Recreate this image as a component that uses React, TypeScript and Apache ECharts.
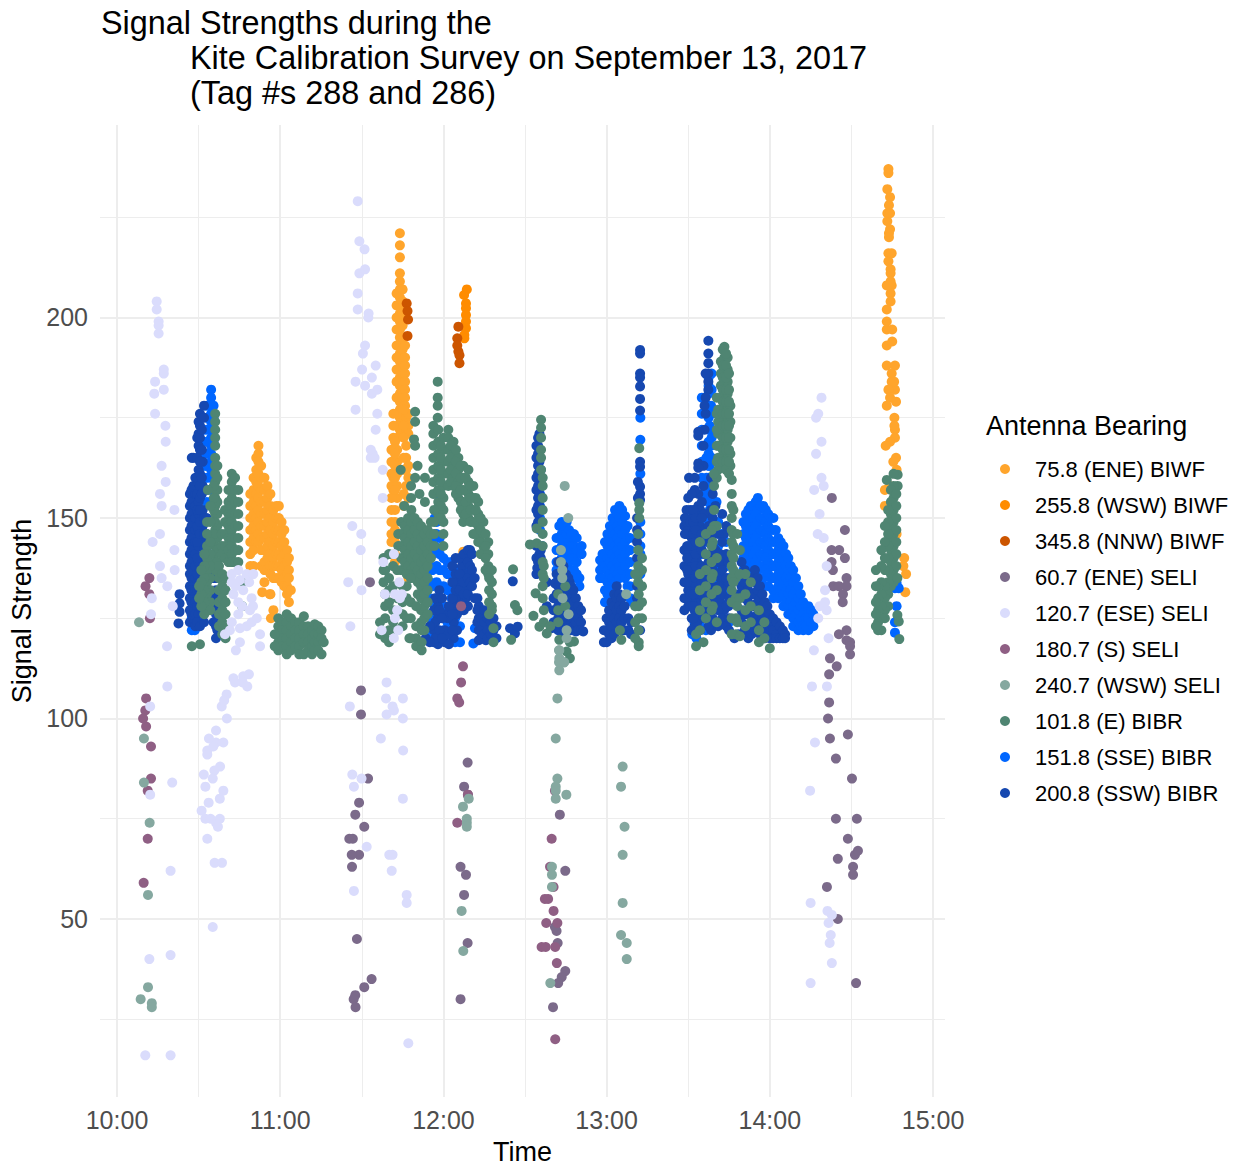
import React, { useEffect, useRef } from "react";
import * as echarts from "echarts";

type Rows = number[][]; // each row: [minutes after 10:00, signal, signal, ...]

const titleLines = ["Signal Strengths during the", "Kite Calibration Survey on September 13, 2017", "(Tag #s 288 and 286)"];
const xMajor = [0, 60, 120, 180, 240, 300];
const xMinor = [30, 90, 150, 210, 270];
const xLabels = ["10:00", "11:00", "12:00", "13:00", "14:00", "15:00"];
const yMajor = [50, 100, 150, 200];
const yMinor = [25, 75, 125, 175, 225];

const biwf75: Rows = [
  [49, 156, 153, 150, 147, 144, 141, 138], [50.2, 160, 157, 154, 151, 148, 145, 142, 138], [51.2, 165, 162, 159, 156, 153, 150, 147, 144],
  [52, 168, 166, 164, 161, 158, 155, 152, 149, 146, 144], [53, 163, 160, 157, 154, 151, 148, 145, 142, 138], [54.2, 160, 157, 154, 151, 148, 145, 142, 139, 137, 134],
  [55.3, 158, 155, 152, 149, 146, 143, 140, 137], [56.4, 156, 153, 150, 147, 144, 141, 138, 136, 131], [57.5, 152, 149, 146, 143, 140, 138, 135, 127],
  [58.6, 153, 150, 147, 144, 141, 138, 135], [59.5, 153, 150, 147, 144, 141, 138, 135], [60.5, 149, 146, 143, 140, 137, 134],
  [61.5, 147, 144, 141, 138, 135, 133], [62.5, 142, 139, 136, 133, 131], [63.2, 140, 137, 135, 132, 129], [53.4, 131.5], [56.2, 131], [56.6, 125], [63.9, 132],
  [104, 221, 218, 215, 211, 209, 207, 205, 203, 201, 199, 197, 195, 193, 191, 189, 187, 185, 183, 181, 179, 177, 175, 172], [102.8, 206, 203, 200, 197, 193, 190, 187, 184, 180],
  [105, 207, 204, 201, 198, 195, 192, 189, 186, 183, 180, 177, 174], [105.9, 193, 190, 188, 186, 184, 182, 180, 178], [103, 176, 173, 170, 167, 164, 161, 158, 155],
  [101.6, 176, 173, 170, 167, 164, 160, 157], [100.9, 167, 164, 161, 158, 155, 152, 149, 146, 144], [102.2, 169, 166, 163, 160, 157, 152, 149, 147, 144, 141, 139],
  [106.3, 175, 172, 168, 165, 162, 158], [107.1, 176, 173, 171, 163, 160, 155, 135], [105.4, 177, 173, 170, 165, 162, 156, 153], [128.2, 130.6], [127.3, 141.6],
  [283.6, 237, 236], [283.2, 232, 226, 224], [284.2, 230, 226, 222], [283.8, 228, 221, 220], [283.6, 216, 214], [284.8, 216, 208], [284.4, 212, 211, 209, 206, 204], [283, 208, 202, 199, 197, 193, 188], [285, 197, 194],
  [286, 188, 182, 172, 170], [284.8, 186, 184], [285.7, 184], [283.6, 182], [284.2, 180], [286.4, 179, 165], [283, 178], [285.8, 175, 173], [284.2, 169], [282.6, 168], [285.4, 164], [286.6, 162, 146], [284, 158], [282.3, 157, 153], [289.4, 140], [289.1, 138], [290.1, 136], [285, 137], [289.8, 131.5],
];
const biwf255: Rows = [[128.6, 207], [127.6, 205.6], [128.3, 203.5, 202.3, 200.6, 199, 197.3], [127.7, 195.6, 194.8]];
const biwf345: Rows = [[106.5, 203.5], [106.8, 201.6, 195.4], [107, 199.5], [125.5, 197.7, 191.5], [125.1, 194.8, 193], [125.9, 190.6, 188.6]];
const seli60: Rows = [
  [89.7, 107, 101], [92.3, 85], [89, 79, 66], [87.6, 76, 31], [90.9, 73, 33], [85.4, 70], [86.7, 70], [86.3, 66], [86.4, 63], [88.2, 45], [93.6, 35], [87, 30], [87.7, 28], [93, 134],
  [128.9, 89, 44], [127.6, 83, 56], [129, 81], [126.3, 63, 30], [128.3, 61], [162.8, 76], [164.8, 62, 37], [161.6, 47], [161, 48], [162, 44], [163.5, 35.5], [162.2, 34], [160.3, 28],
  [262.8, 155], [267.6, 147, 140], [262.7, 142, 139], [265.5, 142], [263.2, 137], [268.2, 135, 133, 122, 119.5], [263.3, 133], [265.4, 133, 121], [266.9, 131], [266.8, 129], [269.5, 119, 118, 116], [262.1, 115, 95], [264.6, 113], [261.8, 111, 104], [261.4, 100], [268.7, 96, 70], [264.3, 90, 75], [270.2, 85], [272, 75], [265, 65, 50], [271.3, 66], [272.4, 67], [270.6, 63, 61], [261, 58], [271.7, 34],
];
const seli120: Rows = [
  [14.6, 204, 202], [15.3, 199, 198, 196], [17.2, 187, 186, 182], [14, 184, 176], [13.7, 181], [17.8, 173], [17.9, 169, 159], [16.4, 163, 153, 135], [15.8, 156, 146, 138], [21.1, 152, 142], [13.1, 144], [21.2, 137], [18.5, 133, 108], [12.8, 130], [20.5, 128], [12.5, 126], [18.4, 118],
  [12.2, 103, 81], [20.3, 84], [19.7, 62, 41, 16], [11.9, 40], [10.4, 16],
  [40.3, 106], [38.5, 103], [39.4, 104.5], [43.4, 109], [46.2, 109], [47.9, 108], [40.4, 100], [36.4, 97, 94, 74], [33.8, 95], [39.1, 94, 82], [35.4, 93], [33.2, 92, 91, 70], [37.9, 88], [35.8, 87], [31.9, 86], [35.2, 85, 48], [32.5, 83, 75], [37.8, 80, 75], [33.7, 79], [31.1, 77], [34.4, 75], [37.1, 73], [35.9, 64], [38.6, 64],
  [42.2, 136, 134, 124], [44.6, 137, 129, 126], [47.7, 136, 123], [50.1, 136], [45.2, 134.5, 122.5, 119], [42.8, 131, 110], [46.4, 132, 110.5], [49.5, 130, 124], [50, 128], [48.9, 127], [51.4, 125], [39.7, 121], [41.5, 122], [52.6, 121, 118], [43.7, 117], [48.5, 111], [43.6, 133], [48.6, 134], [46, 128],
  [88.5, 229, 206, 202], [89.1, 219, 211], [91, 217], [91.2, 212, 193, 183], [92.5, 201], [92.4, 200], [90.4, 191], [95.1, 188, 172], [90.1, 187], [93.7, 185, 181], [87.7, 184, 177], [95.7, 182, 176], [93.3, 167, 165], [94, 166], [94.7, 165], [97.7, 162, 155], [86.5, 148, 86], [89.8, 146], [89.6, 142], [101.8, 141, 120, 102], [97.9, 139], [85, 134], [89.9, 132, 85], [98.5, 131], [103.8, 134], [102.2, 131, 125], [104.7, 131], [104, 130], [103, 127], [103.4, 122], [97.3, 122], [85.8, 123],
  [99.1, 109, 101], [98.9, 105], [105.1, 105, 100, 80], [85.6, 103], [101.3, 103, 66], [97, 95], [105.2, 92], [87.1, 83, 57], [91.8, 68], [100.1, 66], [101, 62], [106.5, 56, 54], [107.1, 19],
  [259, 180, 169, 160], [257.8, 176, 125], [257, 175, 166], [259.8, 158, 145], [256.3, 157], [258.3, 151, 128], [257.6, 146], [260.9, 138, 127], [260.3, 132, 129], [261.6, 120, 49], [256.2, 117], [255.5, 108], [261, 108], [256.6, 94], [254.8, 82], [255, 54, 34], [261.2, 52], [262.8, 51, 39], [262.4, 46], [262, 44],
];
const seli180: Rows = [
  [11.9, 135, 131], [10.5, 133], [12.1, 125], [10.7, 105, 98], [10.4, 102], [9.6, 100], [12.5, 93, 85], [11.3, 82, 70], [9.8, 59],
  [127.2, 113], [126.5, 109, 128], [125.1, 105, 74], [125.8, 104], [129, 81], [161, 82], [159.8, 70], [159.2, 63], [160.5, 58, 52], [157.3, 55], [158.5, 55], [157.8, 49], [161.9, 49], [156.1, 43], [157.6, 43], [161.1, 43, 20], [161.7, 39],
];
const seli240: Rows = [
  [8.1, 124], [9.9, 95, 84], [12, 74], [11.4, 56, 33], [8.7, 30], [12.8, 29, 28],
  [162.6, 117, 115, 112], [164.3, 114], [161.9, 105, 85], [161.3, 95, 83, 82, 80], [165.2, 81], [159.9, 63, 61, 58], [159.3, 34],
  [129.3, 80], [127.2, 78], [128.6, 75, 74, 73], [126.7, 52], [127.3, 42],
  [185.9, 88, 66, 54], [185.3, 83, 46], [186.6, 73], [187.4, 44, 40], [164.6, 158], [165.9, 150], [163.2, 142, 139], [163.7, 137, 135], [163.8, 130], [166, 126], [165.3, 122, 120], [162.5, 117, 114], [164.4, 114], [187.2, 131],
];
const bibr101: Rows = [
  [36.1, 176, 174, 172, 170, 168, 165, 163, 161, 159, 157, 155, 153, 151, 149, 147, 145, 143, 141, 139, 137], [36.9, 163, 160, 157, 154, 151, 148, 145, 142, 139], [35.6, 158, 155, 152, 149, 146],
  [33.1, 149, 146, 143, 140, 137, 134, 131, 128], [34.3, 153, 149, 144, 141, 138, 135, 132, 129, 127], [32.1, 141, 138, 135, 132, 129, 126], [31, 137, 134, 131, 128], [30.2, 133, 130], [33.4, 157],
  [38.5, 146, 143, 141], [39.7, 152, 149, 146, 143, 140], [41, 157, 154, 151, 148, 145, 142, 139], [42.2, 161, 159, 157, 155, 153, 151, 149, 147, 145, 143, 141, 139], [43.4, 160, 157, 154, 151, 148, 145, 142, 139], [44.6, 157, 154, 151, 148, 145, 142, 139],
  [37.5, 138, 135, 132, 129, 126, 123], [38.7, 136, 133, 130, 127, 124, 121], [39.9, 135, 132, 129, 126, 123, 120], [27.5, 118], [30.5, 118.5], [46, 134, 128],
  [59.3, 125, 123, 121, 119, 117], [60.8, 124, 122, 120, 118], [62.4, 126, 124, 122, 120, 118, 116], [64, 125, 123, 121, 119, 117], [65.5, 124, 122, 120, 118], [67, 124, 122, 120, 118, 116], [68.7, 125.5, 123, 121, 119, 116], [70.2, 123, 121, 119, 117], [71.7, 122, 120, 118, 116], [72.7, 123.5, 121, 119, 117], [74, 123, 121, 119, 117], [75.2, 122, 120, 116], [58, 121, 118], [76, 119],
  [109.6, 176.5, 174, 160], [109.2, 169.6], [109.6, 168], [110.5, 163], [104.3, 162], [113.2, 160, 154], [108.1, 158, 155], [111.2, 156], [105.6, 153], [117.9, 184, 180, 178, 175],
  [116.3, 173, 171, 168, 165, 162, 159, 156], [118.1, 172, 169, 166, 163, 160, 157, 154, 151], [120, 170, 167, 164, 161, 158, 155, 152, 149, 146, 143], [119.1, 168, 165, 162, 159, 156, 153, 150], [121.8, 172, 170, 167, 164, 161, 158], [123.7, 169, 166, 163, 160, 158], [122.7, 168, 165, 162, 159], [125.5, 165, 162, 159, 157, 155], [124.6, 167, 164, 161, 158, 156],
  [127.3, 163, 160, 157, 154, 151, 149], [126.4, 163, 160, 157, 154, 152], [129.2, 162, 159, 156, 153, 150], [128.2, 160, 157, 154, 151], [131, 158, 155, 152, 149, 146], [130, 158, 155, 152, 149], [132.8, 154, 151, 148, 146, 144], [131.9, 155, 152, 149, 146], [134.7, 149, 146, 143, 141], [133.7, 150, 147, 144, 141], [136.5, 144, 141, 138, 136], [135.5, 146, 143, 140, 137], [137.8, 137, 134, 131, 128, 127], [136.8, 135, 132, 129, 126], [138.4, 122.5, 119],
  [103.4, 146, 143], [104.5, 149, 146, 143, 140, 137], [105.8, 148, 145, 142, 139], [107, 150, 147, 144, 141, 138], [108.2, 152, 149, 146, 143, 140, 137], [109.4, 150, 147, 144, 141, 138, 135], [110.6, 149, 146, 143, 140, 137, 134, 131], [111.8, 148, 145, 142, 139, 136, 133, 130, 127, 124], [113, 146, 143, 140, 137, 134, 131, 128, 125, 122], [114.2, 147, 144, 141, 138, 135, 132, 129, 126], [115.4, 149, 146, 143, 140], [116.6, 152, 149, 146, 143],
  [98, 140, 137, 134], [98.6, 137, 131, 128, 125, 120], [100, 141, 135, 132, 129, 122, 119], [101.5, 138, 133, 127, 124], [103, 137, 130, 122], [105, 133, 129, 126, 123], [106.5, 136, 133, 130, 125], [108, 135, 129, 125, 120], [96.7, 124, 121], [110, 128, 123, 120, 118], [107.5, 120], [112, 122, 119, 117],
  [145.6, 137.2], [146.3, 128.3], [147.2, 127], [153.1, 125.6], [144.9, 119.6], [153.9, 131.2], [151.8, 143.4], [154.3, 147.4, 143.7], [155.3, 122.9], [158, 121.2],
  [155.9, 174.5, 172.5, 170, 167, 165, 162], [156.5, 160, 158, 155, 152, 149, 146, 143, 139, 136, 133, 130], [156.9, 138, 135, 127, 124], [162.2, 131, 127, 124], [164.8, 133, 128], [168, 119.2], [165.3, 116.7], [166.5, 115, 119], [162.6, 119.6], [159.3, 123],
  [184.9, 122], [185.4, 119.6], [192, 167.4, 153.7, 152, 150], [191.6, 146, 142, 138, 136, 134], [191.8, 131, 128, 125, 122, 119, 118], [193, 140, 137, 133, 129, 125], [190.5, 136, 128, 124, 120],
  [223.3, 192.7, 190, 187, 184, 181, 178, 175, 172, 169, 166, 163], [222, 189, 186, 183, 180, 177, 174, 171, 168, 165], [224.5, 190, 187, 184, 181, 178, 175, 172, 169, 166, 163], [221, 177, 174, 171, 168, 165, 162], [225.5, 178, 174, 170, 166, 163],
  [220.5, 180, 176, 172, 168, 164, 160], [222.7, 192, 188, 185, 182, 179, 176, 173, 170, 167, 164], [223.9, 191, 188, 185, 182, 179, 176, 173, 170, 167, 164, 162], [225, 186, 182, 179, 176, 173, 170, 167, 164, 161],
  [219, 144, 136, 128], [220.5, 148, 140, 132, 124], [227.5, 135, 130, 125, 121],
  [226, 159.5, 156, 153, 150, 147, 144, 141, 138, 135, 132, 129, 125, 121], [226.6, 152, 146, 143, 140, 137, 134], [219.5, 161, 158, 152, 148], [218.6, 147, 143, 139, 135, 131, 127], [216.5, 146, 141, 137, 133, 129, 125], [214.3, 144, 136, 132, 127, 122], [212.9, 118, 121], [215.6, 119],
  [229, 142, 136, 130, 120.5], [231, 136, 131, 127, 123], [233, 134, 128, 124], [236, 119, 122, 127], [240, 117.5], [238, 124, 120], [228, 146, 128, 124],
  [287, 160.8, 158], [283, 159.5], [285.5, 161, 158, 155, 152, 149, 146, 143, 140, 137, 134], [284.5, 157, 154, 151, 148, 145, 142, 139, 136, 133], [286.5, 156, 153, 150, 147, 144, 141, 138], [283.5, 152, 149, 146, 143, 140, 137, 134, 131, 128], [282.3, 148, 144, 140, 137, 133, 130, 127, 125],
  [281, 142, 138, 134, 131, 128, 125, 122], [279.8, 133, 130, 127, 124, 122], [279, 137, 133, 129, 126, 123], [287.6, 119.8], [287.4, 124.2], [286.9, 125.8, 135],
];
const bibr151: Rows = [
  [34.6, 182, 180, 178, 176, 174, 172, 170, 168, 166, 164, 162, 160, 157, 154], [33, 178, 175, 172, 169, 166, 163, 160, 157, 154], [35.5, 178, 175, 172, 169, 165], [32, 172, 169, 166, 163, 160], [30.5, 143, 140], [27.5, 122, 125, 129, 132], [28.6, 122, 124, 128, 134], [36.5, 130, 127, 124],
  [115, 142, 138, 134, 130, 126, 122], [116, 145, 141, 137, 133, 129, 125, 121],
  [116.8, 150, 146, 143], [117.5, 156, 152, 149, 146, 142, 138, 134, 130, 126, 122], [118.6, 145, 141, 137, 133, 129, 125], [120, 140, 137, 133, 128, 122], [121.5, 139, 136, 132, 127, 124], [123, 139, 136, 133, 130, 126, 122], [124.3, 137, 134, 131, 128, 125, 122, 119], [126.1, 135, 131, 127, 123, 119], [131, 118.7], [131.6, 122.5], [127.5, 137, 130], [113.5, 136, 133], [115.5, 129, 125],
  [155.5, 158, 156, 153, 150, 147], [156.3, 160, 143], [161.6, 145, 142, 139, 137, 134], [162.6, 148, 145, 142, 139], [163.5, 149, 146, 143, 140, 137], [164.5, 148, 145, 142, 139], [165.3, 149, 146, 143, 140], [166.2, 147, 144, 141, 139], [167.1, 146, 143, 140, 137], [168, 146, 143, 140, 137], [169, 145, 142, 139, 136, 135], [170, 135, 133], [170.8, 143, 141],
  [177.6, 139.5, 137, 135], [178.5, 141, 138, 135], [179.4, 144, 141, 138, 135, 132, 129], [180.3, 146, 143, 140, 137, 134, 131], [181.2, 148, 145, 142, 139, 136, 133], [182.2, 150, 147, 144, 141, 138, 135], [183.1, 152, 149, 146, 143, 140, 137, 134], [183.9, 151, 148, 145, 142, 139, 136], [184.7, 153, 150, 147, 144, 141, 138, 135], [185.7, 152, 149, 146, 143, 140, 137], [186.8, 150.5, 147, 144, 141, 138, 135], [187.7, 148, 145, 142, 139, 136, 133], [188.6, 145, 142, 139, 136, 133, 130], [189.6, 129],
  [192.4, 175, 169.5, 161, 149, 146, 143, 141, 136],
  [217.5, 185, 183, 181, 178, 175, 172, 169, 166, 163, 160, 157, 154, 151, 148], [218.4, 178, 172, 168], [216.7, 165, 160, 155, 150, 144, 138], [219.5, 152, 146, 140, 134], [213, 139, 133, 127, 123, 120], [216.5, 132, 126, 122], [221, 149, 143, 137, 130], [224, 144, 138, 132], [211.5, 142, 121],
  [215, 180, 176, 172, 168, 164, 160], [218.6, 186, 182, 176, 170, 165, 160, 156], [217.9, 173, 168, 163, 158, 152], [216, 156, 150, 146], [214.5, 141, 134, 128, 123], [212.3, 138, 130, 124], [220.4, 154, 148, 142, 136, 128], [222.4, 146, 140, 134, 128], [225, 135, 129, 124],
  [230.3, 149, 146, 143, 140, 137, 134, 131], [231.2, 151, 148, 145, 142, 139, 136], [232.1, 152, 149, 146, 143, 140, 137, 134], [233, 153, 150, 147, 144, 141, 138], [233.9, 153, 150, 147, 144, 141, 138, 135], [234.8, 154, 151, 148, 145, 142, 139], [235.6, 155, 152, 149, 146, 143, 140, 137, 134], [236.6, 153, 150, 147, 144, 141, 138, 135], [237.6, 153, 150, 147, 144, 141, 138, 135, 133], [238.5, 152, 149, 146, 143, 140, 137], [239.4, 151, 148, 145, 142, 139, 136, 133], [240.3, 150, 147, 144, 141, 138, 135],
  [241.3, 150, 147, 144, 141, 138, 135, 132, 130], [242.2, 147, 144, 141, 138, 135, 132], [243.1, 145, 142, 139, 136, 133, 130], [244, 144, 141, 138, 135, 132], [245, 143, 140, 137, 134, 131, 128], [246, 141, 138, 135, 132, 129], [246.8, 140, 137, 134, 131, 128, 126], [247.7, 138, 135, 132, 129, 126], [248.6, 137, 134, 131, 128, 125, 123], [249.6, 135, 132, 129, 126], [250.5, 133, 130, 127, 124, 122], [251.4, 131, 128, 125, 123], [252.3, 129, 126, 123, 122], [253.2, 128, 125, 123], [254.2, 128, 125, 122], [255.2, 127, 124], [256, 126, 123],
  [286.6, 133.8, 128], [286, 132.5, 124, 121.4], [287.4, 132.5],
];
const bibr200: Rows = [
  [23, 131, 128.7, 126.6], [22.6, 123.7], [26.8, 156, 153, 150, 147, 144, 141, 138, 136, 133, 130, 127, 124], [27.5, 165], [28.1, 165, 158, 155, 152, 149, 146, 143, 140, 137, 134, 131, 128, 125],
  [27.4, 157, 154, 151, 148, 145, 142, 139, 135, 132, 129, 126], [28.8, 160, 156, 153, 150, 147, 144, 141, 138, 135, 132, 129, 126, 123], [30, 174, 171, 168, 162, 159, 154, 151, 147, 143, 139, 135, 130, 126], [31.5, 164, 158, 152, 148, 144, 140, 136, 132, 126], [35.5, 135, 131, 127, 124], [37.4, 130, 126],
  [29.5, 170, 165, 160, 156, 152, 148, 144, 140, 136, 132, 128, 124], [30.5, 176, 173, 170, 167, 164, 161, 158, 155, 152, 149, 146, 137, 134, 131, 128, 123], [32, 178, 175, 150, 146, 142, 138, 134, 128, 124], [33, 150, 146, 143, 139], [34, 145, 141, 137, 132], [36.4, 138, 135, 132, 129, 126, 123, 120], [36.9, 127, 124, 122], [31.2, 172, 167, 160, 156],
  [145.5, 134.2], [144.5, 122.5], [146.3, 121.2], [147.3, 122.9], [154.5, 140, 137.5],
  [123.8, 128, 124, 120], [125, 134, 130, 126, 122], [126.8, 138, 134, 130], [128.2, 140, 136, 133, 130], [133, 128, 125, 122, 119.5], [134.3, 126, 123, 120], [135.6, 125, 122, 119.5], [136.8, 123, 120], [138, 123, 120.5], [118, 128, 125, 121, 118.5], [120.5, 126, 122, 119], [116.5, 127, 122, 119],
  [121.5, 121, 125], [117, 130, 124, 120], [118.5, 132, 127, 122], [119.5, 130, 125, 120], [122, 128, 118.5], [123.3, 138, 134, 130, 126, 122], [124.5, 140, 136, 132], [126, 140, 136, 132, 128], [127.5, 141, 134, 131, 127], [129, 142, 139, 135, 131, 128], [129.8, 142, 138, 134], [130.5, 141, 137, 133], [131.5, 135, 130],
  [132.5, 130, 127, 124], [133.8, 125, 122, 120], [135, 127, 124, 121], [136.2, 125, 122, 120], [137.4, 124, 121], [138.4, 125, 122], [139.5, 123, 120], [113.5, 120], [115, 123, 119],
  [154.2, 168, 165, 160, 157, 152, 148, 143, 140, 136], [155.3, 171, 167, 164, 160, 156, 153, 141], [163.7, 125, 121.5], [161.6, 136, 131, 127, 123], [166.4, 134, 131, 128, 125, 122], [168.2, 128, 125, 122.5], [167.3, 131, 128, 125, 122],
  [154.8, 170, 168, 166, 163, 161, 158, 155, 153, 151, 149, 139, 137], [155.8, 162, 142, 140], [158, 134, 128], [159.8, 122.5], [160.5, 130, 127, 124], [161, 133.7, 130], [162.2, 139, 136, 133, 128, 125, 122], [163.2, 136, 133, 130, 126], [164.1, 138, 135, 132, 129, 126, 123], [165, 136, 133, 130, 127, 124], [165.9, 135, 132, 129, 126, 123], [166.9, 133, 130, 127, 124], [167.8, 132, 129, 126, 123], [168.7, 130, 127, 124, 121.7], [169.6, 128, 125, 122], [170.6, 127, 124, 122], [171.4, 121.7],
  [179, 122, 119], [180, 125, 122, 119], [180.9, 127, 124, 121], [181.8, 129, 126, 123, 120], [182.8, 131, 128, 125, 121], [183.7, 133, 130, 127, 124], [184.6, 131, 128, 125], [185.5, 130, 127, 124, 122], [186.6, 128, 125, 122], [188, 125, 122], [189, 124, 121],
  [192.3, 191.9, 191, 186, 185, 182.8, 179.7, 176.8, 164, 162.8, 157.8, 156, 154.5, 122], [191.2, 150, 147, 144, 140, 136, 133, 130], [191.5, 159, 155],
  [217.4, 194.2, 191, 188.6, 186, 184, 182], [216.4, 186, 180, 176], [216, 178, 172], [215.6, 168, 163, 158], [213.7, 171.5, 170.5, 163.6, 162.5, 156, 153, 150, 147, 144, 141, 138, 134, 130, 126], [210.3, 160], [212.4, 160, 157],
  [208.6, 148, 142, 138, 134, 130, 127], [210, 155, 147, 141, 136, 132, 128], [211.3, 156, 150, 145, 139, 134, 129, 125, 122], [212.3, 147, 142, 136, 132, 127, 123], [213.3, 149, 145, 139, 133, 128, 124], [214.4, 152, 148, 143, 137, 131, 127, 122], [216, 151, 147, 141, 135, 130, 125], [218.4, 160, 152, 146, 141, 133, 127, 122], [220, 153, 148, 142, 136, 130, 124], [221.8, 141, 135, 129, 124], [223.2, 146, 139, 133, 127], [224.8, 139, 134, 128],
  [209.4, 152, 149, 146, 130], [208.8, 150, 146], [210.7, 152, 149, 143, 140, 137, 134, 131, 128], [211.9, 152, 149, 146, 143, 140, 137, 134, 131, 128, 125], [209.6, 143, 140, 137, 134], [212.8, 150, 147, 144, 141, 138, 135], [215, 154, 150, 146, 142, 138, 134], [217.5, 148, 144, 139, 135, 131, 127, 123], [219, 156, 150, 143, 137, 129, 125], [221, 146, 139, 133, 127, 123], [222.5, 151, 144, 137, 131, 125], [224, 148, 141, 135, 128, 123], [225, 130, 125, 122],
  [227, 120], [228.5, 131, 125, 121], [229.6, 139, 136, 133, 127, 124], [230.8, 137, 134, 130, 126, 122], [232.1, 132, 129, 126, 122, 120], [233.3, 135, 131, 128, 125, 121], [234.5, 137, 134, 131, 128, 125, 122], [235.5, 135, 132, 129, 126, 123], [236.4, 133, 130, 127, 124, 121], [237.3, 131, 128, 125, 122], [238.2, 129, 126, 123, 120], [239.1, 128, 125, 122], [240, 126, 123, 120], [241.2, 125, 122, 120], [242.5, 124, 121, 120], [243.7, 123, 120], [244.8, 122, 120], [245.6, 121, 120],
];

const seriesSpec: { name: string; color: string; rows: Rows }[] = [
  { name: "75.8 (ENE) BIWF", color: "#FFA52C", rows: biwf75 },
  { name: "255.8 (WSW) BIWF", color: "#FF8C00", rows: biwf255 },
  { name: "345.8 (NNW) BIWF", color: "#CC5500", rows: biwf345 },
  { name: "151.8 (SSE) BIBR", color: "#0066FF", rows: bibr151 },
  { name: "200.8 (SSW) BIBR", color: "#1648B0", rows: bibr200 },
  { name: "101.8 (E) BIBR", color: "#4F8572", rows: bibr101 },
  { name: "60.7 (ENE) SELI", color: "#7B6A8A", rows: seli60 },
  { name: "180.7 (S) SELI", color: "#8F5F84", rows: seli180 },
  { name: "120.7 (ESE) SELI", color: "#DADCFC", rows: seli120 },
  { name: "240.7 (WSW) SELI", color: "#85A8A0", rows: seli240 },
];
const legendOrder = ["75.8 (ENE) BIWF", "255.8 (WSW) BIWF", "345.8 (NNW) BIWF", "60.7 (ENE) SELI", "120.7 (ESE) SELI", "180.7 (S) SELI", "240.7 (WSW) SELI", "101.8 (E) BIBR", "151.8 (SSE) BIBR", "200.8 (SSW) BIBR"];

const FONT = "'Liberation Sans', Arial, sans-serif";
const grid = "#EDEDED";
const xRange = { min: -6.25, max: 304.4 };
const yRange = { min: 5.6, max: 248 };

export default function App() {
  const ref = useRef<HTMLDivElement>(null);
  useEffect(() => {
    const chart = echarts.init(ref.current!, null, { renderer: "svg" });
    const titleStyle = { fontFamily: FONT, fontSize: 32.4, fontWeight: "normal" as const, color: "#000" };
    const majorX = {
      type: "value", position: "bottom", ...xRange, name: "Time", nameLocation: "middle", nameGap: 41,
      nameTextStyle: { fontFamily: FONT, fontSize: 27, color: "#000" },
      axisLine: { show: false },
      axisTick: { show: false, customValues: xMajor },
      axisLabel: { customValues: xMajor, margin: 10, fontFamily: FONT, fontSize: 25, color: "#4D4D4D", formatter: (v: number) => xLabels[xMajor.indexOf(v)] ?? "" },
      splitLine: { show: true, lineStyle: { color: grid, width: 2 } },
    };
    const minorX = {
      type: "value", position: "bottom", ...xRange, axisLine: { show: false },
      axisTick: { show: false, customValues: xMinor }, axisLabel: { show: false, customValues: xMinor },
      splitLine: { show: true, lineStyle: { color: grid, width: 1 } },
    };
    const majorY = {
      type: "value", position: "left", ...yRange, name: "Signal Strength", nameLocation: "middle", nameGap: 60,
      nameTextStyle: { fontFamily: FONT, fontSize: 27, color: "#000" },
      axisLine: { show: false },
      axisTick: { show: false, customValues: yMajor },
      axisLabel: { customValues: yMajor, margin: 12, fontFamily: FONT, fontSize: 25, color: "#4D4D4D" },
      splitLine: { show: true, lineStyle: { color: grid, width: 2 } },
    };
    const minorY = {
      type: "value", position: "left", ...yRange, axisLine: { show: false },
      axisTick: { show: false, customValues: yMinor }, axisLabel: { show: false, customValues: yMinor },
      splitLine: { show: true, lineStyle: { color: grid, width: 1 } },
    };
    chart.setOption({
      animation: false,
      backgroundColor: "#fff",
      title: [
        { text: titleLines[0], left: 96, top: 2, textStyle: titleStyle },
        { text: titleLines[1], left: 185, top: 37, textStyle: titleStyle },
        { text: titleLines[2], left: 185, top: 72, textStyle: titleStyle },
        { text: "Antenna Bearing", left: 981, top: 407, textStyle: { ...titleStyle, fontSize: 27 } },
      ],
      grid: { left: 100, right: 293, top: 125, bottom: 68, containLabel: false, outerBoundsMode: "none" },
      xAxis: [minorX, majorX],
      yAxis: [minorY, majorY],
      legend: {
        data: legendOrder, orient: "vertical", left: 995, top: 452, itemWidth: 10, itemHeight: 10, itemGap: 12,
        icon: "circle", selectedMode: false,
        textStyle: { fontFamily: FONT, fontSize: 22, color: "#000", lineHeight: 24, padding: [0, 0, 0, 20] },
      },
      series: seriesSpec.map((s) => ({
        type: "scatter", name: s.name, xAxisIndex: 1, yAxisIndex: 1, symbol: "circle", symbolSize: 10,
        itemStyle: { color: s.color, opacity: 1 },
        data: s.rows.flatMap(([t, ...vs]) => vs.map((v) => [t, v])),
        silent: true,
      })),
    });
    return () => chart.dispose();
  }, []);
  return <div ref={ref} style={{ position: "absolute", left: 0, top: 0, width: 1238, height: 1165 }} />;
}
